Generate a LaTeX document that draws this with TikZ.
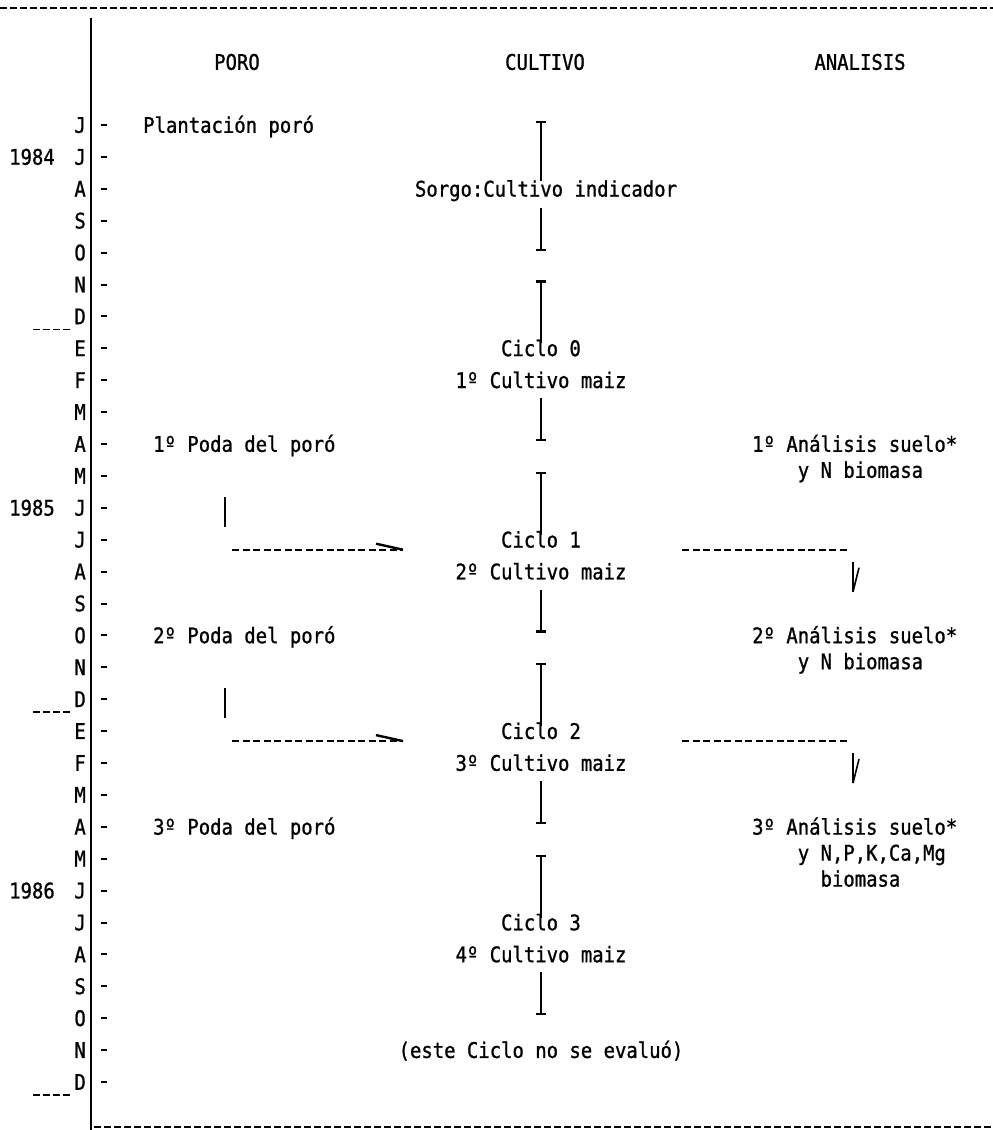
\documentclass[tikz,border=0pt]{standalone}
\usepackage{fontspec}
\setmonofont[FakeStretch=0.88,FakeBold=1]{DejaVu Sans Mono}
\newcommand\ry[1]{\fpeval{125+31.9*(#1)}}
\newcommand\rb[1]{\fpeval{132.8+31.9*(#1)}}
\begin{document}
\begin{tikzpicture}[x=1pt,y=-1pt,
  txt/.style={inner sep=0pt,font=\ttfamily\fontsize{21.5}{21.5}\selectfont,anchor=base},
  ltxt/.style={txt,anchor=base west},
  mon/.style={txt,anchor=base east},
  rule/.style={line width=1.6pt,dash pattern=on 7pt off 3pt},
  axis/.style={line width=2pt},
  tick/.style={line width=2pt},
  bar/.style={line width=2.4pt},
  dline/.style={line width=1.6pt,dash pattern=on 7pt off 3.5pt},
  head/.style={line width=2.2pt}]
\useasboundingbox (0,0) rectangle (993,1130);

% frame lines
\coordinate (tl) at (0,8);
\coordinate (tr) at (993,8);
\draw[rule] (tl) -- (tr);
\coordinate (bl) at (94,1127);
\coordinate (br) at (993,1127);
\draw[rule] (bl) -- (br);
\coordinate (at) at (91,18);
\coordinate (ab) at (91,1130);
\draw[axis] (at) -- (ab);

% headers
\node[txt] (hporo) at (237,69.8) {PORO};
\node[txt] (hcult) at (545,69.8) {CULTIVO};
\node[txt] (hanal) at (860,69.8) {ANALISIS};

% months
\foreach \m [count=\i from 0] in {J,J,A,S,O,N,D,E,F,M,A,M,J,J,A,S,O,N,D,E,F,M,A,M,J,J,A,S,O,N,D}{
  \node[mon] (m\i) at (86,{\rb{\i}}) {\m};
  \coordinate (ta\i) at (101,{\ry{\i}});
  \coordinate (tb\i) at (107,{\ry{\i}});
  \draw[tick] (ta\i) -- (tb\i);
}
% years
\node[txt] (y84) at (32,{\rb{1}}) {1984};
\node[txt] (y85) at (32,{\rb{12}}) {1985};
\node[txt] (y86) at (32,{\rb{24}}) {1986};
% year ends
\foreach \r in {6,18,30}{
  \coordinate (ea\r) at (33,{\ry{\r}+13});
  \coordinate (eb\r) at (73,{\ry{\r}+13});
  \draw[line width=1.5pt,dash pattern=on 7pt off 3pt] (ea\r) -- (eb\r);
}

% PORO column
\node[ltxt] (plant) at (143,{\rb{0}}) {Plantación poró};
\node[ltxt] (poda1) at (153,{\rb{10}}) {1º Poda del poró};
\node[ltxt] (poda2) at (153,{\rb{16}}) {2º Poda del poró};
\node[ltxt] (poda3) at (153,{\rb{22}}) {3º Poda del poró};

% CULTIVO column
\node[txt] (sorgo) at (546,{\rb{2}}) {Sorgo:Cultivo indicador};
\coordinate (s0t) at (541,{\ry{0}-3});
\coordinate (s0m) at (541,{\ry{2}-8});
\coordinate (s0u) at (541,{\ry{2}+19});
\coordinate (s0b) at (541,{\ry{4}-3});
\draw[bar] (s0t) -- (s0m);
\draw[bar] (s0u) -- (s0b);
\draw[head] ([xshift=-5pt]s0t) -- ([xshift=5pt]s0t);
\draw[head] ([xshift=-5pt]s0b) -- ([xshift=5pt]s0b);

\foreach \a/\k/\n in {5/0/1,11/1/2,17/2/3,23/3/4}{
  \pgfmathtruncatemacro\ra{\a+2}
  \pgfmathtruncatemacro\rc{\a+3}
  \pgfmathtruncatemacro\re{\a+5}
  \node[txt] (cic\k) at (541,{\rb{\ra}}) {Ciclo \k};
  \node[txt] (cul\k) at (541,{\rb{\rc}}) {\n º Cultivo maiz};
  \coordinate (c\k t) at (541,{\ry{\a}-3});
  \coordinate (c\k m) at (541,{\ry{\ra}-5});
  \coordinate (c\k u) at (541,{\ry{\rc}+18});
  \coordinate (c\k b) at (541,{\ry{\re}-4});
  \draw[bar] (c\k t) -- (c\k m);
  \draw[bar] (c\k u) -- (c\k b);
  \draw[head] ([xshift=-5pt]c\k t) -- ([xshift=5pt]c\k t);
  \draw[head] ([xshift=-5pt]c\k b) -- ([xshift=5pt]c\k b);
}
\node[txt] (noeval) at (541,{\rb{29}}) {(este Ciclo no se evaluó)};

% ANALISIS column
\node[ltxt] (an1) at (752,{\rb{10}}) {1º Análisis suelo*};
\node[ltxt] (an1b) at (797.6,{\rb{10}+26}) {y N biomasa};
\node[ltxt] (an2) at (752,{\rb{16}}) {2º Análisis suelo*};
\node[ltxt] (an2b) at (797.6,{\rb{16}+26}) {y N biomasa};
\node[ltxt] (an3) at (752,{\rb{22}}) {3º Análisis suelo*};
\node[ltxt] (an3b) at (797.6,{\rb{22}+26}) {y N,P,K,Ca,Mg};
\node[ltxt] (an3c) at (820.4,{\rb{22}+52}) {biomasa};

% flows
\foreach \r/\s in {12/13,18/19}{
  \coordinate (pv\r a) at (225,{\ry{\r}-11});
  \coordinate (pv\r b) at (225,{\ry{\r}+19});
  \draw[line width=1.6pt] (pv\r a) -- (pv\r b);
  \coordinate (la\r) at (232,{\ry{\s}+10});
  \coordinate (lb\r) at (403,{\ry{\s}+10});
  \coordinate (lh\r) at (376,{\ry{\s}+4});
  \draw[dline] (la\r) -- (lb\r);
  \draw[line width=2.4pt] (lh\r) -- (lb\r);
  \coordinate (ra\r) at (682,{\ry{\s}+10});
  \coordinate (rb\r) at (847,{\ry{\s}+10});
  \draw[dline] (ra\r) -- (rb\r);
  \coordinate (dt\r) at (853,{\ry{\s}+22});
  \coordinate (db\r) at (853,{\ry{\s}+52});
  \coordinate (ds\r) at (859,{\ry{\s}+28});
  \draw[line width=2pt] (dt\r) -- (db\r);
  \draw[line width=1.6pt] (ds\r) -- (db\r);
}
\end{tikzpicture}
\end{document}
